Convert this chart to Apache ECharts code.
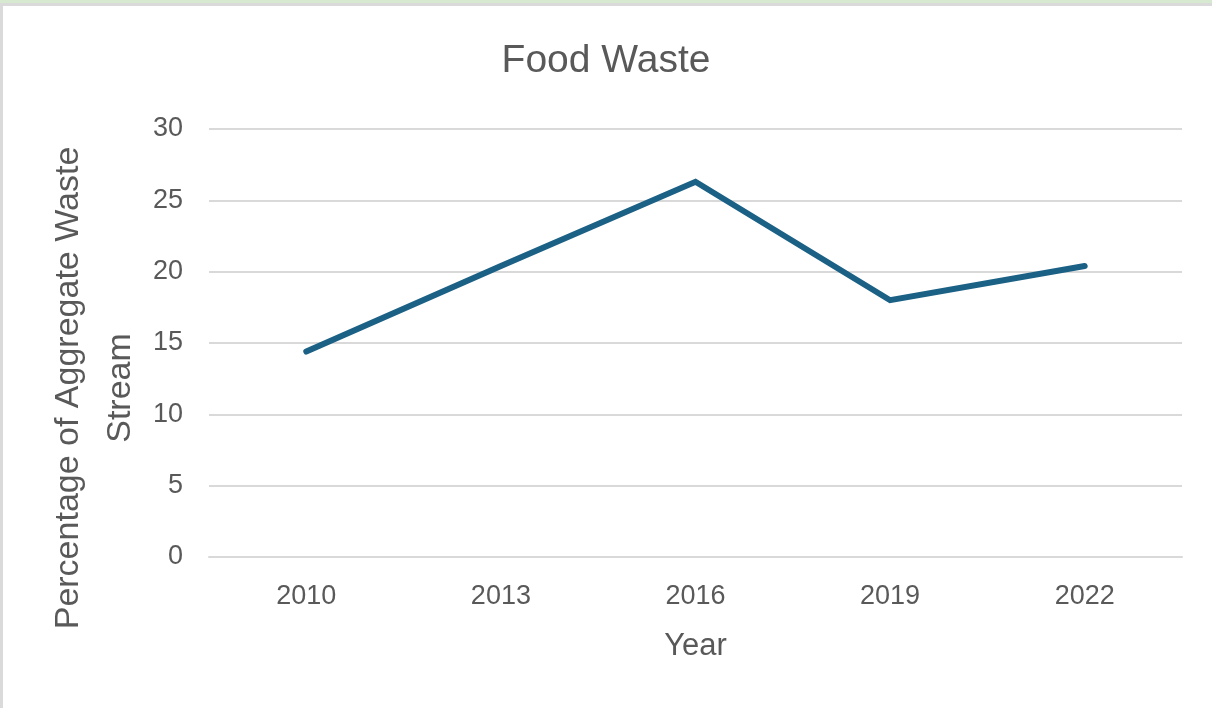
<!DOCTYPE html>
<html>
<head>
<meta charset="utf-8">
<script src="https://cdn.jsdelivr.net/npm/echarts@6/dist/echarts.min.js"></script>
<style>
  html, body { margin: 0; padding: 0; background: #ffffff; }
  #frame { position: absolute; left: 0; top: 0; width: 1212px; height: 708px; box-sizing: border-box;
           border-top: 3px solid #d8e9d2; }
  #inner { position: absolute; left: 0; top: 0; right: 0; bottom: 0;
           border-top: 3px solid #dadada; border-left: 3px solid #dadada; box-sizing: border-box; }
  #chart { position: absolute; left: 0; top: 0; width: 1212px; height: 702px; }
</style>
</head>
<body>
<div id="frame"><div id="inner"></div><div id="chart"></div></div>
<script>
// Food waste share of the aggregate waste stream, by survey year
const years = ['2010', '2013', '2016', '2019', '2022'];
const foodWastePct = [14.4, 20.4, 26.3, 18.0, 20.4];
const yTicks = { min: 0, max: 30, interval: 5 };

const textColor = '#595959';
const fontFamily = 'Liberation Sans';
const chart = echarts.init(document.getElementById('chart'), null, { renderer: 'canvas' });

chart.setOption({
  animation: false,
  backgroundColor: 'transparent',
  title: {
    text: 'Food Waste',
    left: 'center',
    top: 34,
    textStyle: { color: textColor, fontSize: 39, fontWeight: 'normal', fontFamily: fontFamily }
  },
  grid: { left: 209, right: 30, top: 126, bottom: 148 },
  xAxis: {
    type: 'category',
    data: years,
    boundaryGap: true,
    name: 'Year',
    nameLocation: 'middle',
    nameGap: 74,
    nameTextStyle: { color: textColor, fontSize: 31, fontFamily: fontFamily },
    axisLine: { show: true, lineStyle: { color: '#d9d9d9', width: 2 } },
    axisTick: { show: false },
    axisLabel: { color: textColor, fontSize: 27, margin: 26, fontFamily: fontFamily }
  },
  yAxis: {
    type: 'value',
    min: yTicks.min,
    max: yTicks.max,
    interval: yTicks.interval,
    axisLine: { show: false },
    axisTick: { show: false },
    axisLabel: { color: textColor, fontSize: 27, margin: 26, fontFamily: fontFamily },
    splitLine: { show: true, lineStyle: { color: '#d9d9d9', width: 2 } }
  },
  graphic: [
    {
      type: 'text',
      x: 95,
      y: 385,
      rotation: Math.PI / 2,
      style: {
        text: 'Percentage of Aggregate Waste\nStream',
        fill: textColor,
        font: '34px "Liberation Sans"',
        align: 'center',
        verticalAlign: 'middle',
        lineHeight: 52
      }
    }
  ],
  series: [
    {
      type: 'line',
      data: foodWastePct,
      symbol: 'none',
      lineStyle: { color: '#1b6085', width: 6, cap: 'round', join: 'miter' }
    }
  ]
});
</script>
</body>
</html>
